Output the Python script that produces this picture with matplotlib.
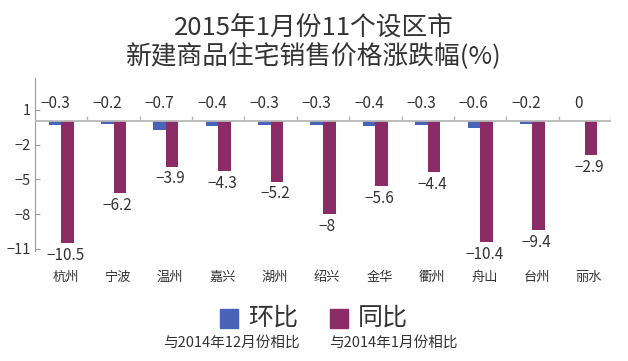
import matplotlib

matplotlib.use("Agg")
import matplotlib.pyplot as plt
import numpy as np
from matplotlib.patches import Rectangle

plt.rcParams["font.family"] = ["Noto Sans CJK SC", "DejaVu Sans"]
plt.rcParams["axes.unicode_minus"] = True

# data
cities = ["杭州", "宁波", "温州", "嘉兴", "湖州", "绍兴", "金华", "衢州", "舟山", "台州", "丽水"]
mom = [-0.3, -0.2, -0.7, -0.4, -0.3, -0.3, -0.4, -0.3, -0.6, -0.2, 0]
yoy = [-10.5, -6.2, -3.9, -4.3, -5.2, -8, -5.6, -4.4, -10.4, -9.4, -2.9]
yticks = [1, -2, -5, -8, -11]

BLUE = "#4863b8"
PURPLE = "#8b2c67"
TXT = "#333333"
GRID = "#b8b8b8"

fig = plt.figure(figsize=(6.28, 3.61), dpi=100)
ax = fig.add_axes([35 / 628, 94.6 / 361, 576 / 628, 188.5 / 361])

x = np.arange(len(cities))
w = 0.24
ax.bar(x - w / 2, mom, w, color=BLUE, zorder=2)
ax.bar(x + w / 2, yoy, w, color=PURPLE, zorder=2)

ax.set_xlim(-0.5, len(cities) - 0.5)
ax.set_ylim(-12.5, 3.75)

# zero line with small separators between cities
ax.axhline(0, color=GRID, lw=1.3, zorder=3)
ax.vlines(x + 0.5, 0, 0.5, color=GRID, lw=1.0, zorder=3)

for s in ["top", "right", "bottom"]:
    ax.spines[s].set_visible(False)
ax.spines["left"].set_color("#999999")
ax.spines["left"].set_linewidth(0.8)
ax.spines["left"].set_bounds(-11.2, 3.75)

ax.set_yticks(yticks)
ax.set_yticklabels([f"{t:d}".replace("-", "\u2212") for t in yticks])
ax.tick_params(axis="y", direction="in", length=3.5, width=0.8, color="#999999",
               labelsize=10.5, labelcolor=TXT, pad=3)
ax.set_xticks(x + 0.08)
ax.set_xticklabels(cities)
ax.tick_params(axis="x", length=0, labelsize=9.5, labelcolor=TXT, pad=3)

fmt = lambda v: ("0" if v == 0 else f"{v:g}").replace("-", "\u2212")

# month-on-month labels sit in a row above the zero line
for xi, v in zip(x, mom):
    ax.text(xi - w / 2, 1.55, fmt(v), ha="center", va="center", fontsize=11, color=TXT)

# year-on-year labels under each bar
for xi, v in zip(x, yoy):
    ax.annotate(fmt(v), (xi + w / 2 - 0.04, v), xytext=(0, -2.5), textcoords="offset points",
                ha="center", va="top", fontsize=11, color=TXT)

fig.text(0.5, 1 - 28 / 361, "2015年1月份11个设区市", ha="center", va="center",
         fontsize=18.5, color=TXT, fontweight="light")
fig.text(0.5, 1 - 56.5 / 361, "新建商品住宅销售价格涨跌幅(%)", ha="center", va="center",
         fontsize=18.5, color=TXT, fontweight="light")

# legend
for left, col, lab, sub, subx in [(220, BLUE, "环比", "与2014年12月份相比", 231.5),
                                  (330, PURPLE, "同比", "与2014年1月份相比", 393.5)]:
    fig.add_artist(Rectangle((left / 628, 1 - 328 / 361), 18 / 628, 19 / 361,
                             transform=fig.transFigure, color=col))
    fig.text((left + 28) / 628, 1 - 318 / 361, lab, ha="left", va="center",
             fontsize=18, color=TXT)
    fig.text(subx / 628, 1 - 343 / 361, sub, ha="center", va="center",
             fontsize=10.5, color=TXT)

fig.savefig("out.png", dpi=100, facecolor="white")
